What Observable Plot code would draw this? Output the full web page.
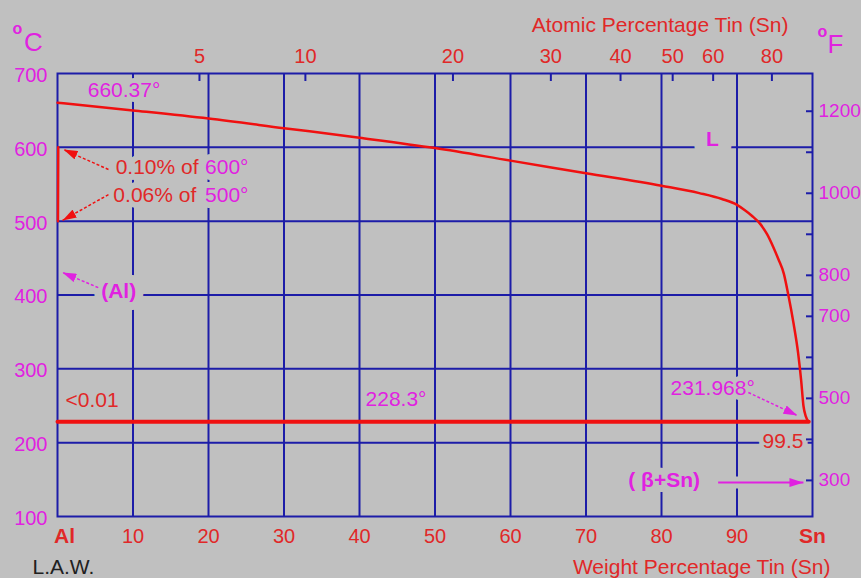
<!DOCTYPE html>
<html>
<head>
<meta charset="utf-8">
<script src="https://cdn.jsdelivr.net/npm/d3@7"></script>
<script src="https://cdn.jsdelivr.net/npm/@observablehq/plot@0.6"></script>
<style>
  html, body { margin: 0; padding: 0; background: #c0c0c0; }
  svg { display: block; }
</style>
</head>
<body>
<div id="chart"></div>
<script>
// ---- data (weight % Sn, temperature °C) ----
const liquidusWt = [0, 10, 20, 30, 40, 50, 60, 70, 80, 85, 88, 90, 91, 92, 93.1, 94, 94.8, 95.5, 96.2, 96.8, 97.5, 98.1, 98.5, 98.8, 99.1, 99.5];
const liquidusT  = [660.37, 650, 639, 626, 613, 599, 582, 565, 548, 538, 530, 522, 515, 507, 496, 482, 465, 448, 429, 400, 361, 321, 284, 250, 236, 228.3];
const eutecticT = 228.3;
const eutecticWt = [0, 99.5];
const solvusWt = [0.10, 0.06];
const solvusT = [600, 500];

// ---- axes ----
const wtGrid = [10, 20, 30, 40, 50, 60, 70, 80, 90];
const tempGrid = [200, 300, 400, 500, 600];
const wtTickLabels = [10, 20, 30, 40, 50, 60, 70, 80, 90];
const tempTickLabels = [100, 200, 300, 400, 500, 600, 700];
const atomicTicks = [5, 10, 20, 30, 40, 50, 60, 80];
const fahrenheitTicks = [1200, 1100, 1000, 900, 800, 700, 600, 500, 400, 300];
const fahrenheitLabels = [1200, 1000, 800, 700, 500, 300];

// ---- annotations (anchored in data coordinates) ----
const notesMagenta = [
  {x: 4.0, y: 677, text: "660.37°"},
  {x: 40.8, y: 258.5, text: "228.3°"},
  {x: 81.2, y: 273.4, text: "231.968°"}
];
const notesSolvusRed = [
  {x: 7.7, y: 572.7, text: "0.10% of"},
  {x: 7.4, y: 534.8, text: "0.06% of"}
];
const notesSolvusMag = [
  {x: 25.3, y: 572.7, text: "600°"},
  {x: 25.3, y: 534.8, text: "500°"}
];
const notePhaseAl = [{x: 8.1, y: 404.8, text: "(Al)"}];
const notePhaseL = [{x: 86.75, y: 610.6, text: "L"}];
const notePhaseBeta = [{x: 75.6, y: 148.8, text: "( β+Sn)"}];
const noteLow = [{x: 1.06, y: 257, text: "<0.01"}];
const noteEutComp = [{x: 98.8, y: 201.6, text: "99.5"}];

const arrowsRed = [
  {x1: 6.75, y1: 570, x2: 0.8, y2: 597},
  {x1: 6.75, y1: 536, x2: 0.66, y2: 501}
];
const arrowsMagDashed = [
  {x1: 5.4, y1: 410, x2: 0.66, y2: 430.5},
  {x1: 91.5, y1: 268, x2: 98.0, y2: 236.8}
];
const arrowBeta = [{x1: 87.5, y1: 146, x2: 98.8, y2: 146}];

// ---- conversions ----
const atToWt = a => 100 * a * 118.71 / (a * 118.71 + (100 - a) * 26.982);
const fToC = f => (f - 32) * 5 / 9;

const BG = "#c0c0c0", BLUE = "#1c1ca8", RED = "#f01010", RTXT = "#e02828", MAG = "#e022e0";
const FS = 21, NS = 20;

const liquidus = liquidusWt.map((w, i) => ({w, t: liquidusT[i]}));
const solvus = solvusWt.map((w, i) => ({w, t: solvusT[i]}));
const eutectic = eutecticWt.map(w => ({w, t: eutecticT}));

function head(color) {
  return d3.create("svg:marker")
    .attr("viewBox", "-14 -4.5 14 9")
    .attr("markerWidth", 14).attr("markerHeight", 9)
    .attr("markerUnits", "userSpaceOnUse")
    .attr("orient", "auto")
    .attr("fill", color).attr("stroke", "none")
    .call(m => m.append("path").attr("d", "M-14,-4.5L0,0L-14,4.5Z"))
    .node();
}

function note(data, fill, {anchor = "start", weight = "normal", halo = 0, size = FS} = {}) {
  const o = {x: "x", y: "y", text: "text", fill, fontSize: size, textAnchor: anchor, fontWeight: weight};
  if (halo) { o.stroke = BG; o.strokeWidth = halo; }
  return Plot.text(data, o);
}

function marginText(str, frameAnchor, dx, dy, fill, opts = {}) {
  return Plot.text([str], {frameAnchor, dx, dy, text: d => d, fill, fontSize: FS,
    textAnchor: "middle", lineAnchor: "middle", ...opts});
}

const chart = Plot.plot({
  width: 861, height: 578,
  marginLeft: 57, marginRight: 49, marginTop: 73, marginBottom: 62,
  x: {domain: [0, 100]},
  y: {domain: [100, 700]},
  style: {background: BG, fontFamily: "'Liberation Sans', Arial, sans-serif", fontSize: FS + "px", overflow: "visible"},
  marks: [
    Plot.ruleX(wtGrid, {x: d => d, stroke: BLUE, strokeWidth: 2}),
    Plot.ruleY(tempGrid, {y: d => d, stroke: BLUE, strokeWidth: 2}),

    note(notesMagenta.slice(0, 1), MAG, {halo: 10}),
    note(notesMagenta.slice(1, 2), MAG),
    note(notesMagenta.slice(2), MAG, {halo: 10}),
    note(notesSolvusRed, RTXT, {halo: 12}),
    note(notesSolvusMag, MAG, {anchor: "end", halo: 12}),
    note(notePhaseAl, MAG, {anchor: "middle", weight: "bold", halo: 16}),
    note(notePhaseL, MAG, {anchor: "middle", weight: "bold", halo: 26}),
    note(notePhaseBeta, MAG, {weight: "bold", halo: 14}),
    note(noteLow, RTXT),
    note(noteEutComp, RTXT, {anchor: "end", halo: 10}),
    Plot.link(arrowBeta, {x1: "x1", y1: "y1", x2: "x2", y2: "y2", stroke: BG, strokeWidth: 12}),

    Plot.frame({stroke: BLUE, strokeWidth: 2}),
    Plot.axisX(atomicTicks.map(atToWt), {anchor: "top", tickSize: -7, stroke: BLUE, strokeWidth: 2, fill: "none", label: null}),
    Plot.axisY(fahrenheitTicks.map(fToC), {anchor: "right", tickSize: -7, stroke: BLUE, strokeWidth: 2, fill: "none", label: null}),

    Plot.line(solvus, {x: "w", y: "t", stroke: RED, strokeWidth: 2.5}),
    Plot.line(liquidus, {x: "w", y: "t", stroke: RED, strokeWidth: 2.5, curve: "monotone-x"}),
    Plot.line(eutectic, {x: "w", y: "t", stroke: RED, strokeWidth: 4}),

    Plot.link(arrowsRed, {x1: "x1", y1: "y1", x2: "x2", y2: "y2", stroke: RED, strokeWidth: 1.5, strokeDasharray: "3,2", markerEnd: head}),
    Plot.link(arrowsMagDashed, {x1: "x1", y1: "y1", x2: "x2", y2: "y2", stroke: MAG, strokeWidth: 1.5, strokeDasharray: "3,2", markerEnd: head}),
    Plot.link(arrowBeta, {x1: "x1", y1: "y1", x2: "x2", y2: "y2", stroke: MAG, strokeWidth: 2, markerEnd: head}),

    // axis tick labels
    Plot.text(tempTickLabels, {x: 0, y: d => d, dx: -10, dy: 2, text: d => String(d), textAnchor: "end", fill: MAG, fontSize: NS}),
    Plot.text(wtTickLabels, {x: d => d, y: 100, dy: 20, text: d => String(d), fill: RTXT, fontSize: NS}),
    Plot.text(["Al"], {x: 0, y: 100, dx: 7, dy: 20, text: d => d, fill: RTXT, fontSize: FS, fontWeight: "bold"}),
    Plot.text(["Sn"], {x: 100, y: 100, dy: 20, text: d => d, fill: RTXT, fontSize: FS, fontWeight: "bold"}),
    Plot.text(atomicTicks, {x: d => atToWt(d), y: 700, dy: -17, text: d => String(d), fill: RTXT, fontSize: NS}),
    Plot.text(fahrenheitLabels, {x: 100, y: d => fToC(d), dx: 6, text: d => String(d), textAnchor: "start", fill: MAG, fontSize: 19}),

    // axis titles and units
    marginText("Atomic Percentage Tin (Sn)", "top-right", -24, -48, RTXT, {textAnchor: "end"}),
    marginText("Weight Percentage Tin (Sn)", "bottom-right", 18, 51, RTXT, {textAnchor: "end"}),
    marginText("L.A.W.", "bottom-left", -25, 51, "#202020", {textAnchor: "start"}),
    marginText("o", "top-left", -40, -45, MAG, {fontSize: 16, fontWeight: "bold"}),
    marginText("C", "top-left", -24, -31, MAG, {fontSize: 26}),
    marginText("o", "top-right", 10, -42, MAG, {fontSize: 16, fontWeight: "bold"}),
    marginText("F", "top-right", 23, -29, MAG, {fontSize: 26})
  ]
});
document.getElementById("chart").appendChild(chart);
</script>
</body>
</html>
